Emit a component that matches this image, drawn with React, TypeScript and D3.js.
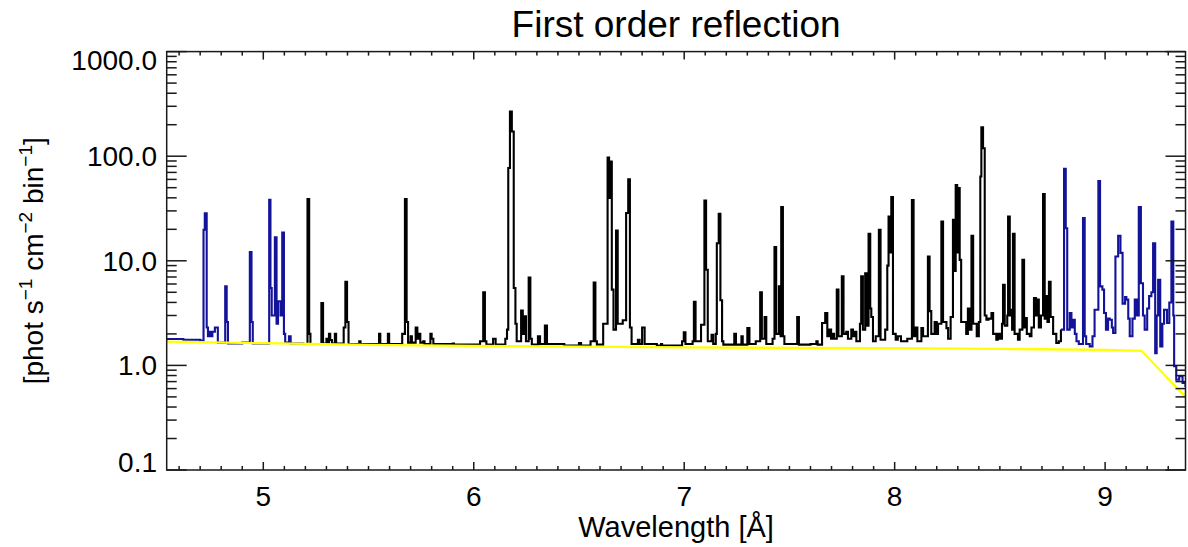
import React from "react";
import * as d3 from "d3";

// ---------- data ----------
const title = "First order reflection";
const xLabel = "Wavelength [Å]";
const xDomain = [4.541, 9.382];
const yDomain = [0.1, 1000];
const xMajorTicks = [5, 6, 7, 8, 9];
const yMajorTicks = [0.1, 1, 10, 100, 1000];
const yTickLabels = ["0.1", "1.0", "10.0", "100.0", "1000.0"];

// continuum model (yellow)
const continuumWave = [4.541, 5.0, 5.5, 6.0, 6.5, 7.0, 7.5, 8.0, 8.5, 9.0, 9.173, 9.382];
const continuumFlux = [1.69, 1.63, 1.57, 1.54, 1.51, 1.49, 1.47, 1.46, 1.44, 1.41, 1.38, 0.5];

// spectrum, bin start wavelength [Å] and flux, blue part (short wavelengths)
const spectrumBlueShort: [number, number][] = [
  [4.541, 1.79], [4.62, 1.76], [4.7, 1.73], [4.716, 19.8], [4.722, 28.5], [4.731, 2.3],
  [4.737, 1.9], [4.744, 2.1], [4.752, 1.9], [4.758, 2.1], [4.77, 2.3], [4.784, 1.65],
  [4.819, 5.7], [4.826, 2.6], [4.832, 1.62], [4.9, 1.65], [4.936, 12.1], [4.944, 2.6],
  [4.95, 1.62], [5.028, 38.3], [5.034, 5.5], [5.04, 3.0], [5.055, 16.8], [5.063, 2.5],
  [5.07, 4.1], [5.082, 3.0], [5.09, 18.6], [5.098, 2.0], [5.104, 1.65], [5.122, 1.9],
  [5.13, 1.62], [5.19, 1.6],
];

// spectrum, black part
const spectrumBlack: [number, number][] = [
  [5.19, 1.6], [5.21, 39], [5.218, 2.0], [5.224, 1.6], [5.276, 3.95], [5.284, 1.62],
  [5.3, 1.8], [5.306, 1.62], [5.312, 2.0], [5.318, 1.75], [5.326, 1.62], [5.34, 2.0], [5.346, 1.62],
  [5.382, 2.3], [5.39, 6.3], [5.398, 2.6], [5.405, 1.6], [5.456, 1.7], [5.462, 1.6],
  [5.55, 2.0], [5.556, 1.6], [5.592, 2.0], [5.598, 1.6],
  [5.66, 2.0], [5.673, 39], [5.681, 2.6], [5.688, 1.65],
  [5.7, 1.9], [5.706, 1.65], [5.724, 2.3], [5.732, 1.8], [5.74, 2.0], [5.746, 1.65], [5.76, 1.7],
  [5.766, 1.6], [5.794, 2.0], [5.8, 1.8], [5.808, 1.6], [5.9, 1.62], [5.906, 1.58],
  [6.03, 1.7], [6.045, 5.0], [6.053, 1.7], [6.06, 1.58], [6.092, 1.8], [6.104, 1.58],
  [6.15, 1.8], [6.158, 2.2], [6.164, 77], [6.172, 267], [6.181, 172], [6.19, 5.5], [6.198, 2.5],
  [6.204, 1.7], [6.225, 3.35], [6.233, 2.0], [6.24, 2.94], [6.248, 1.7], [6.261, 6.9], [6.269, 1.8],
  [6.276, 1.58], [6.305, 1.9], [6.315, 1.6], [6.338, 2.4], [6.348, 1.6],
  [6.42, 1.6], [6.43, 1.55], [6.5, 1.64], [6.51, 1.55],
  [6.555, 1.7], [6.57, 6.2], [6.578, 1.7], [6.585, 1.58],
  [6.615, 2.5], [6.636, 97], [6.643, 40], [6.648, 89], [6.656, 5.3], [6.664, 2.2], [6.676, 19.5],
  [6.684, 2.5], [6.708, 2.7], [6.724, 28.6], [6.734, 60], [6.742, 2.3], [6.75, 1.6],
  [6.78, 1.76], [6.788, 1.6], [6.8, 2.3], [6.812, 1.6], [6.87, 1.55], [6.89, 1.6], [6.895, 1.55],
  [6.99, 1.7], [6.998, 2.07], [7.006, 1.6], [7.04, 1.7], [7.046, 4.06], [7.054, 1.7],
  [7.08, 2.45], [7.096, 37.7], [7.104, 8.2], [7.112, 1.7], [7.13, 1.96], [7.138, 1.6],
  [7.15, 2.0], [7.155, 14.7], [7.164, 28.1], [7.172, 4.2], [7.18, 1.7], [7.186, 1.58],
  [7.238, 2.0], [7.246, 1.58], [7.272, 1.9], [7.278, 1.58], [7.3, 2.27], [7.31, 1.6],
  [7.34, 1.7], [7.361, 5.0], [7.369, 1.8], [7.382, 2.9], [7.39, 1.6],
  [7.42, 1.8], [7.429, 13.5], [7.437, 2.0], [7.45, 5.7], [7.458, 1.9], [7.461, 32.6], [7.469, 1.9],
  [7.476, 1.6], [7.537, 2.9], [7.545, 1.58], [7.6, 1.6], [7.628, 1.7], [7.634, 1.58],
  [7.655, 2.54], [7.67, 3.17], [7.68, 1.9], [7.69, 2.2], [7.698, 1.8], [7.706, 2.0], [7.712, 1.8],
  [7.725, 5.3], [7.733, 1.9], [7.749, 7.1], [7.757, 2.0], [7.77, 2.1], [7.778, 1.8], [7.794, 2.2],
  [7.802, 1.9], [7.81, 2.1], [7.818, 1.7],
  [7.835, 2.5], [7.841, 7.1], [7.849, 2.2], [7.86, 7.6], [7.868, 2.4], [7.876, 18.1], [7.884, 3.5],
  [7.889, 2.9], [7.897, 1.7], [7.91, 1.9], [7.925, 19.8], [7.933, 1.76],
  [7.955, 2.2], [7.965, 9.0], [7.971, 26.5], [7.979, 12], [7.984, 40.6], [7.992, 2.0], [8.005, 1.76],
  [8.015, 1.9], [8.03, 1.7], [8.06, 1.8], [8.082, 38], [8.09, 1.9], [8.1, 2.3], [8.108, 1.7],
  [8.127, 2.27], [8.135, 1.9], [8.158, 11], [8.166, 3.3], [8.174, 2.0],
  [8.19, 2.6], [8.2, 2.0], [8.206, 2.5], [8.222, 23.7], [8.23, 2.6], [8.246, 2.27], [8.254, 1.8],
  [8.266, 2.9], [8.277, 24.6], [8.285, 8.0], [8.29, 53], [8.297, 12], [8.302, 49.5], [8.309, 10.2],
  [8.316, 2.6], [8.34, 2.0],
  [8.348, 3.5], [8.356, 2.2], [8.365, 17.3], [8.373, 2.5], [8.38, 2.5], [8.39, 1.9], [8.4, 2.6],
  [8.407, 64], [8.412, 189], [8.42, 119], [8.428, 3.0], [8.436, 2.73],
  [8.446, 2.8], [8.46, 3.17], [8.468, 2.0], [8.483, 1.76], [8.49, 2.0], [8.5, 1.8],
  [8.51, 2.5], [8.515, 5.9], [8.523, 2.4], [8.535, 3.0], [8.539, 26.5], [8.547, 3.0], [8.55, 3.4],
  [8.558, 2.2], [8.562, 18.1], [8.57, 2.0], [8.586, 1.76], [8.594, 2.2],
  [8.607, 10.2], [8.615, 2.3], [8.62, 2.84], [8.628, 2.0], [8.642, 1.9], [8.65, 2.3], [8.662, 4.4],
  [8.672, 3.0], [8.677, 4.25], [8.685, 2.3], [8.695, 3.0],
  [8.705, 43.4], [8.713, 2.8], [8.718, 4.6], [8.726, 2.6], [8.733, 6.3], [8.741, 2.9], [8.753, 2.0],
  [8.768, 1.64], [8.78, 1.7], [8.79, 2.2],
];

// spectrum, blue part (long wavelengths)
const spectrumBlueLong: [number, number][] = [
  [8.79, 2.2], [8.805, 75.6], [8.813, 20.5], [8.82, 2.2], [8.832, 3.17], [8.84, 2.3], [8.848, 2.73],
  [8.856, 2.0], [8.864, 1.7], [8.875, 1.6], [8.895, 25.6], [8.903, 1.9], [8.91, 1.6], [8.927, 1.52],
  [8.94, 1.9], [8.95, 3.4], [8.968, 58], [8.976, 5.7], [8.987, 5.3], [8.995, 3.17], [9.004, 2.2],
  [9.014, 2.8], [9.022, 2.73], [9.032, 2.3], [9.038, 2.04],
  [9.049, 11], [9.062, 17.3], [9.073, 11.9], [9.083, 3.9], [9.095, 4.5], [9.101, 4.25], [9.11, 2.8],
  [9.117, 1.9], [9.13, 2.8], [9.141, 4.25], [9.15, 3.0],
  [9.16, 32.6], [9.17, 6.1], [9.18, 3.0], [9.188, 2.2], [9.2, 3.5], [9.209, 4.6], [9.22, 5.0],
  [9.228, 14.7], [9.238, 1.31], [9.245, 3.0], [9.252, 6.6], [9.262, 1.52], [9.272, 2.5], [9.28, 3.4],
  [9.294, 2.54], [9.305, 4.0], [9.315, 23.7], [9.324, 3.0], [9.328, 0.98], [9.338, 0.73],
  [9.352, 0.79], [9.368, 0.68], [9.382, 0.62],
];

// ---------- layout / style ----------
const W = 1188;
const H = 547;
const left = 166.7;
const right = 1185.5;
const top = 51.6;
const bottom = 470;
const FONT = "'Liberation Sans', Arial, Helvetica, sans-serif";
const BLUE = "#13139a";
const YELLOW = "#ffff00";
const AXIS = "#1a1a1a";

export default function App() {
  const x = d3.scaleLinear().domain(xDomain).range([left, right]);
  const y = d3.scaleLog().domain(yDomain).range([bottom, top]);

  const step = d3
    .line<[number, number]>()
    .x((d) => x(d[0]))
    .y((d) => y(d[1]))
    .curve(d3.curveStepAfter);

  const contLine = d3
    .line<number>()
    .x((_, i) => x(continuumWave[i]))
    .y((d) => y(d));

  const xMinor = d3
    .range(46, 94)
    .map((v) => v / 10)
    .filter((v) => v >= xDomain[0] && v <= xDomain[1] && Math.abs(v - Math.round(v)) > 1e-6);
  const yMinor: number[] = [];
  for (let e = -1; e < 3; e++) for (let k = 2; k <= 9; k++) yMinor.push(k * Math.pow(10, e));

  const tickStroke = { stroke: AXIS, strokeWidth: 1.5 };

  return (
    <svg
      width={W}
      height={H}
      style={{ position: "absolute", left: 0, top: 0, background: "#fff" }}
      fontFamily={FONT}
    >
      <defs>
        <clipPath id="plotclip">
          <rect x={left} y={top} width={right - left} height={bottom - top} />
        </clipPath>
      </defs>
      <rect x={0} y={0} width={W} height={H} fill="#fff" />

      {/* title */}
      <text x={(left + right) / 2} y={36.5} textAnchor="middle" fontSize={37} fill="#000">
        {title}
      </text>

      {/* data */}
      <g clipPath="url(#plotclip)" fill="none" strokeLinejoin="miter">
        <path d={step(spectrumBlueShort) || ""} stroke={BLUE} strokeWidth={2.1} />
        <path d={step(spectrumBlack) || ""} stroke="#000" strokeWidth={2.1} />
        <path d={step(spectrumBlueLong) || ""} stroke={BLUE} strokeWidth={2.1} />
        <path d={contLine(continuumFlux) || ""} stroke={YELLOW} strokeWidth={2.3} />
      </g>

      {/* frame */}
      <rect x={left} y={top} width={right - left} height={bottom - top} fill="none" stroke={AXIS} strokeWidth={1.5} />

      {/* x ticks */}
      {xMajorTicks.map((t) => (
        <g key={"xm" + t}>
          <line x1={x(t)} x2={x(t)} y1={bottom} y2={bottom - 8} {...tickStroke} />
          <line x1={x(t)} x2={x(t)} y1={top} y2={top + 8} {...tickStroke} />
          <text x={x(t)} y={506} textAnchor="middle" fontSize={28} fill="#000">
            {t}
          </text>
        </g>
      ))}
      {xMinor.map((t) => (
        <g key={"xn" + t}>
          <line x1={x(t)} x2={x(t)} y1={bottom} y2={bottom - 4} {...tickStroke} />
          <line x1={x(t)} x2={x(t)} y1={top} y2={top + 4} {...tickStroke} />
        </g>
      ))}

      {/* y ticks */}
      {yMajorTicks.map((t, i) => {
        const ty = y(t);
        const ly = Math.min(Math.max(ty, top + 8), bottom - 8);
        return (
          <g key={"ym" + t}>
            <line x1={left} x2={left + 20} y1={ty} y2={ty} {...tickStroke} />
            <line x1={right} x2={right - 20} y1={ty} y2={ty} {...tickStroke} />
            <text x={157} y={ly} dy="0.36em" textAnchor="end" fontSize={28} fill="#000">
              {yTickLabels[i]}
            </text>
          </g>
        );
      })}
      {yMinor.map((t) => (
        <g key={"yn" + t}>
          <line x1={left} x2={left + 10} y1={y(t)} y2={y(t)} {...tickStroke} />
          <line x1={right} x2={right - 10} y1={y(t)} y2={y(t)} {...tickStroke} />
        </g>
      ))}

      {/* axis labels */}
      <text x={(left + right) / 2} y={536.5} textAnchor="middle" fontSize={29} fill="#000">
        {xLabel}
      </text>
      <text
        transform={`translate(43, ${(top + bottom) / 2}) rotate(-90)`}
        textAnchor="middle"
        fontSize={28}
        fill="#000"
      >
        <tspan>[phot s</tspan>
        <tspan dy={-11} fontSize={19}>−1</tspan>
        <tspan dy={11}> cm</tspan>
        <tspan dy={-11} fontSize={19}>−2</tspan>
        <tspan dy={11}> bin</tspan>
        <tspan dy={-11} fontSize={19}>−1</tspan>
        <tspan dy={11}>]</tspan>
      </text>
    </svg>
  );
}
